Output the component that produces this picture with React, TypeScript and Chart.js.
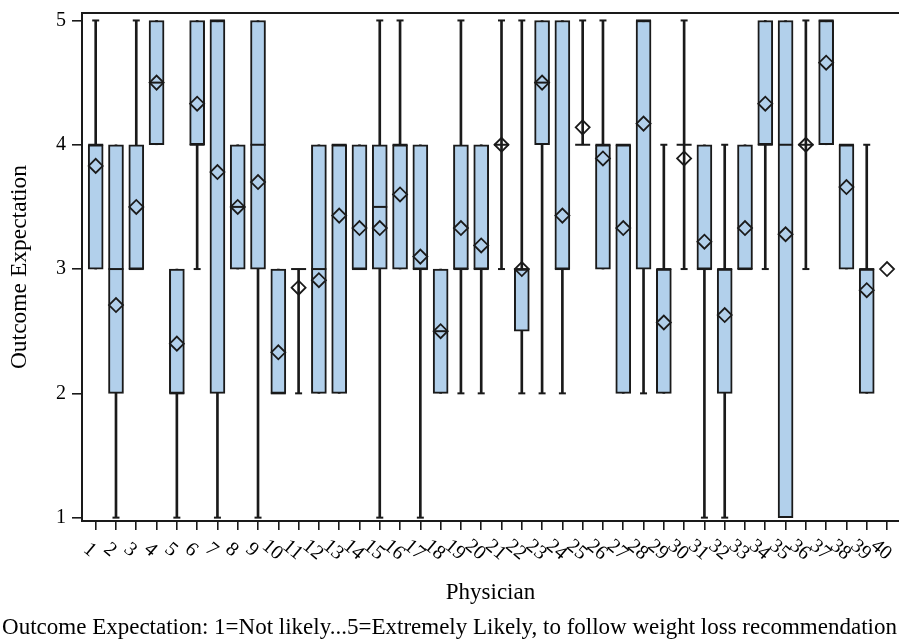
import React, { useEffect, useRef } from 'react';
import { Chart, registerables } from 'chart.js';

Chart.register(...registerables);

const physicians = [1, 2, 3, 4, 5, 6, 7, 8, 9, 10, 11, 12, 13, 14, 15, 16, 17, 18, 19, 20,
  21, 22, 23, 24, 25, 26, 27, 28, 29, 30, 31, 32, 33, 34, 35, 36, 37, 38, 39, 40];
const mins = [3, 1, 3, 4, 1, 3, 1, 3, 1, 2, 2, 2, 2, 3, 1, 3, 1, 2, 2, 2,
  3, 2, 2, 2, 4, 3, 2, 2, 2, 3, 1, 1, 3, 3, 1, 3, 4, 3, 2, 3];
const q1s = [3, 2, 3, 4, 2, 4, 2, 3, 3, 2, 3, 2, 2, 3, 3, 3, 3, 2, 3, 3,
  4, 2.5, 4, 3, 4, 3, 2, 3, 2, 4, 3, 2, 3, 4, 1, 4, 4, 3, 2, 3];
const medians = [4, 3, 3, 4.5, 2, 4, 5, 3.5, 4, 2, 3, 3, 4, 3, 3.5, 4, 3, 2.5, 3, 3,
  4, 3, 4.5, 3, 4, 4, 4, 5, 3, 4, 3, 3, 3, 4, 4, 4, 5, 4, 3, 3];
const q3s = [4, 4, 4, 5, 3, 5, 5, 4, 5, 3, 3, 4, 4, 4, 4, 4, 4, 3, 4, 4,
  4, 3, 5, 5, 4, 4, 4, 5, 3, 4, 4, 3, 4, 5, 5, 4, 5, 4, 3, 3];
const maxs = [5, 4, 5, 5, 3, 5, 5, 4, 5, 3, 3, 4, 4, 4, 5, 5, 4, 3, 5, 4,
  5, 5, 5, 5, 5, 5, 4, 5, 4, 5, 4, 4, 4, 5, 5, 5, 5, 4, 4, 3];
const means = [3.83, 2.71, 3.5, 4.5, 2.4, 4.33, 3.78, 3.5, 3.7, 2.33, 2.85, 2.91, 3.43, 3.33, 3.33, 3.6, 3.1, 2.5, 3.33, 3.19,
  4.0, 3.0, 4.5, 3.43, 4.14, 3.89, 3.33, 4.17, 2.57, 3.89, 3.22, 2.63, 3.33, 4.33, 3.28, 4.0, 4.66, 3.66, 2.83, 3.0];
const yTicks = [1, 2, 3, 4, 5];

const xTitle = 'Physician';
const yTitle = 'Outcome Expectation';
const caption = 'Outcome Expectation: 1=Not likely...5=Extremely Likely, to follow weight loss recommendation';

const FONT = '"Liberation Serif", "Times New Roman", serif';
const INK = '#1a1a1a';
const FILL = 'rgb(178, 208, 235)';

const overlay = {
  id: 'overlay',
  afterDraw(chart: any) {
    const { ctx, chartArea, scales } = chart;
    ctx.save();
    ctx.strokeStyle = INK;
    ctx.lineWidth = 2;
    ctx.beginPath();
    ctx.moveTo(chartArea.left, chartArea.top);
    ctx.lineTo(chartArea.right, chartArea.top);
    ctx.stroke();

    ctx.fillStyle = '#000';
    ctx.font = `20px ${FONT}`;
    ctx.textAlign = 'center';
    ctx.textBaseline = 'middle';
    physicians.forEach((p) => {
      const x = scales.x.getPixelForValue(p);
      ctx.save();
      ctx.translate(x - 6, 550);
      ctx.rotate((40 * Math.PI) / 180);
      ctx.fillText(String(p), 0, 0);
      ctx.restore();
    });

    ctx.font = `23px ${FONT}`;
    ctx.fillText(caption, chart.width / 2, 628);
    ctx.restore();
  },
};

export default function App() {
  const ref = useRef<HTMLCanvasElement | null>(null);

  useEffect(() => {
    if (!ref.current) return;
    const idx = physicians.map((_, i) => i);
    const boxes = idx.filter((i) => q3s[i] > q1s[i]).map((i) => ({ x: physicians[i], y: [q1s[i], q3s[i]] }));
    const whiskers = idx.filter((i) => maxs[i] > mins[i]).map((i) => ({ x: physicians[i], y: [mins[i], maxs[i]] }));
    const medianPts = idx.filter((i) => maxs[i] > mins[i]).map((i) => ({ x: physicians[i], y: medians[i] }));
    const lowCaps = idx.filter((i) => mins[i] < q1s[i]).map((i) => ({ x: physicians[i], y: mins[i] }));
    const highCaps = idx.filter((i) => maxs[i] > q3s[i]).map((i) => ({ x: physicians[i], y: maxs[i] }));
    const meanPts = idx.map((i) => ({ x: physicians[i], y: means[i] }));

    const chart = new Chart(ref.current, {
      type: 'bar',
      data: {
        datasets: [
          {
            type: 'bar',
            data: whiskers as any,
            backgroundColor: INK,
            borderWidth: 0,
            barThickness: 2,
            grouped: false,
            order: 5,
          } as any,
          {
            type: 'bar',
            data: boxes as any,
            backgroundColor: FILL,
            borderColor: INK,
            borderWidth: 2,
            borderSkipped: false,
            barThickness: 15,
            grouped: false,
            order: 4,
          } as any,
          {
            type: 'scatter',
            data: lowCaps as any,
            pointStyle: 'line',
            pointRadius: 3.5,
            borderColor: INK,
            pointBorderColor: INK,
            pointBorderWidth: 2,
            order: 3,
          } as any,
          {
            type: 'scatter',
            data: highCaps as any,
            pointStyle: 'line',
            pointRadius: 3.5,
            borderColor: INK,
            pointBorderColor: INK,
            pointBorderWidth: 2,
            order: 3,
          } as any,
          {
            type: 'scatter',
            data: medianPts as any,
            pointStyle: 'line',
            pointRadius: 7.5,
            borderColor: INK,
            pointBorderColor: INK,
            pointBorderWidth: 2,
            order: 2,
          } as any,
          {
            type: 'scatter',
            data: meanPts as any,
            pointStyle: 'rectRot',
            pointRadius: 7,
            pointBackgroundColor: 'rgba(0,0,0,0)',
            pointBorderColor: INK,
            pointBorderWidth: 1.8,
            order: 1,
          } as any,
        ],
      },
      options: {
        responsive: false,
        animation: false,
        events: [],
        layout: { autoPadding: false, padding: { top: 13, right: 0, left: 0, bottom: 0 } },
        plugins: {
          legend: { display: false },
          tooltip: { enabled: false },
        },
        scales: {
          x: {
            type: 'linear',
            min: 0.325,
            max: 40.59,
            offset: false,
            afterBuildTicks: (scale: any) => {
              scale.ticks = physicians.map((v) => ({ value: v }));
            },
            afterFit: (scale: any) => {
              scale.height = 119;
              scale.paddingLeft = 0;
              scale.paddingRight = 0;
            },
            ticks: { display: false },
            grid: {
              display: true,
              offset: false,
              drawOnChartArea: false,
              drawTicks: true,
              tickLength: 9,
              color: INK,
              lineWidth: 1.6,
            },
            border: { display: true, color: INK, width: 2 },
            title: {
              display: true,
              text: xTitle,
              color: '#000',
              font: { family: FONT, size: 23, lineHeight: 1.2 },
              padding: { top: 0, bottom: 33.5 },
            },
          },
          y: {
            type: 'linear',
            min: 0.973,
            max: 5.06,
            afterBuildTicks: (scale: any) => {
              scale.ticks = yTicks.map((v) => ({ value: v }));
            },
            afterFit: (scale: any) => {
              scale.width = 82;
              scale.paddingTop = 0;
              scale.paddingBottom = 0;
            },
            ticks: {
              color: '#000',
              font: { family: FONT, size: 20 },
              padding: 6,
            },
            grid: {
              display: true,
              drawOnChartArea: false,
              drawTicks: true,
              tickLength: 10,
              color: INK,
              lineWidth: 1.6,
            },
            border: { display: true, color: INK, width: 2 },
            title: {
              display: true,
              text: yTitle,
              color: '#000',
              font: { family: FONT, size: 23.5, lineHeight: 1.2 },
              padding: { top: 6, bottom: 0 },
            },
          },
        },
      } as any,
      plugins: [overlay],
    });
    return () => chart.destroy();
  }, []);

  return (
    <div style={{ position: 'fixed', left: 0, top: 0, width: 899, height: 640, background: '#fff' }}>
      <canvas ref={ref} width={899} height={640} style={{ display: 'block' }} />
    </div>
  );
}
